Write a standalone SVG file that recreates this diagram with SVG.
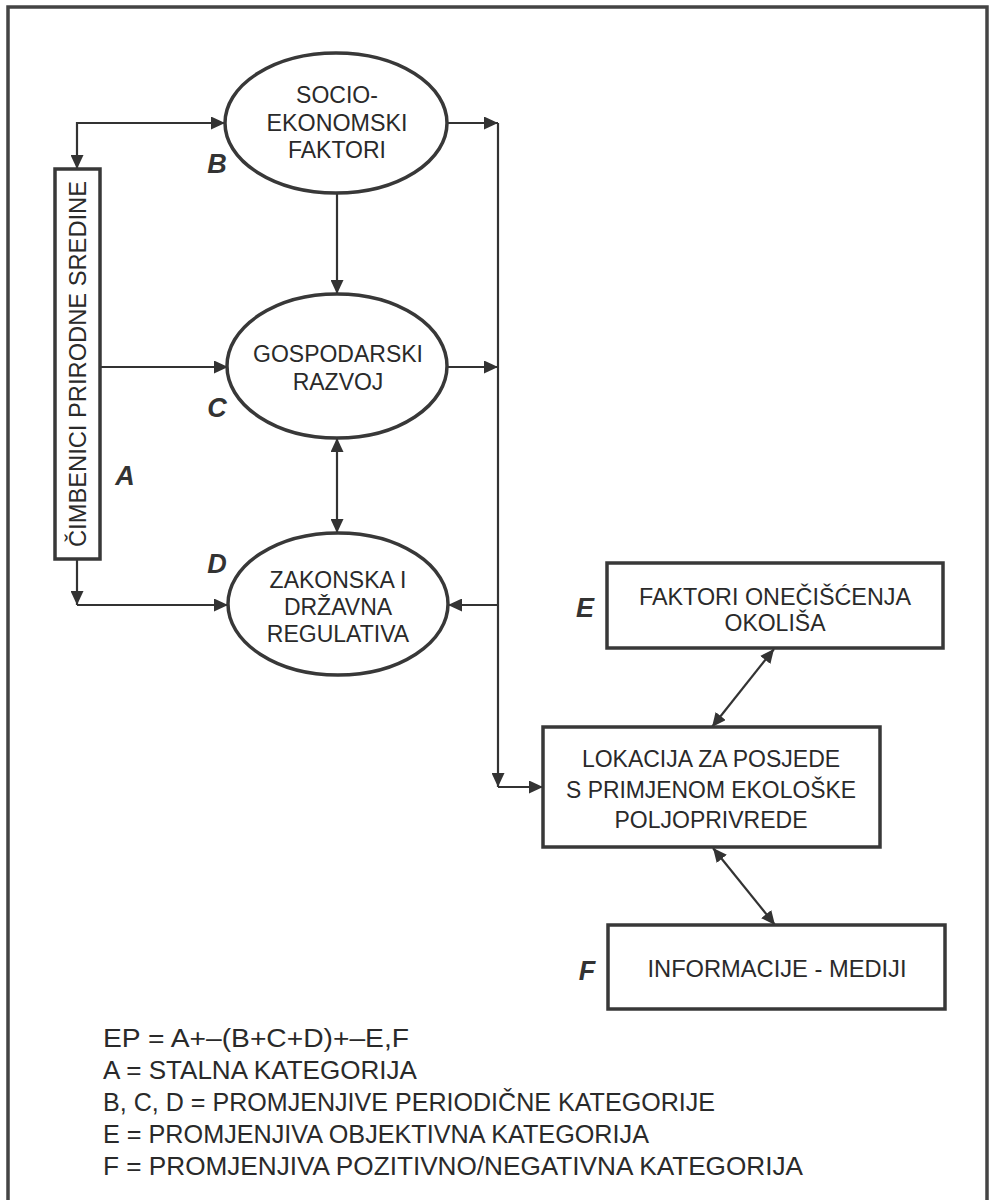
<svg xmlns="http://www.w3.org/2000/svg" width="993" height="1200" viewBox="0 0 993 1200">
<defs>
<marker id="ah" markerUnits="userSpaceOnUse" markerWidth="15" markerHeight="13" refX="14" refY="6.5" orient="auto-start-reverse">
<path d="M0,0 L14,6.5 L0,13 z" fill="#333"/>
</marker>
<style>
.shape{fill:#fff;stroke:#383838;stroke-width:3.5}
.t{font-family:"Liberation Sans",Arial,sans-serif;font-size:23px;fill:#2a2a2a;text-anchor:middle}
.lbl{font-family:"Liberation Sans",Arial,sans-serif;font-size:27px;font-weight:bold;font-style:italic;fill:#333;text-anchor:middle}
.leg{font-family:"Liberation Sans",Arial,sans-serif;font-size:25.5px;fill:#2a2a2a}
.c{fill:none;stroke:#333;stroke-width:2.2}
</style>
</defs>
<rect x="0" y="0" width="993" height="1200" fill="#fff"/>
<rect x="8" y="7" width="979" height="1210" fill="none" stroke="#444" stroke-width="3.5"/>

<g id="connectors">
<path class="c" d="M77,169 L77,123 L225,123" marker-start="url(#ah)" marker-end="url(#ah)"/>
<path class="c" d="M447,123 L498,123" marker-end="url(#ah)"/>
<path class="c" d="M498,123 L498,787" marker-end="url(#ah)"/>
<path class="c" d="M498,787 L543,787" marker-end="url(#ah)"/>
<path class="c" d="M337,193 L337,294" marker-end="url(#ah)"/>
<path class="c" d="M100,367 L228,367" marker-end="url(#ah)"/>
<path class="c" d="M447,367 L498,367" marker-end="url(#ah)"/>
<path class="c" d="M337,438 L337,533" marker-start="url(#ah)" marker-end="url(#ah)"/>
<path class="c" d="M77,559 L77,605" marker-end="url(#ah)"/>
<path class="c" d="M77,605 L228,605" marker-end="url(#ah)"/>
<path class="c" d="M498,605 L448,605" marker-end="url(#ah)"/>
<path class="c" d="M774,649 L712,727" marker-start="url(#ah)" marker-end="url(#ah)"/>
<path class="c" d="M713,848 L775,925" marker-start="url(#ah)" marker-end="url(#ah)"/>
</g>

<g id="nodeA">
<rect class="shape" x="55" y="169" width="45" height="390"/>
<text class="t" x="78" y="372" transform="rotate(-90 78 364)" textLength="366" lengthAdjust="spacingAndGlyphs">ČIMBENICI PRIRODNE SREDINE</text>
<text class="lbl" x="125" y="485">A</text>
</g>

<g id="nodeB">
<ellipse class="shape" cx="336" cy="123" rx="111" ry="70"/>
<text class="t" x="337" y="103">SOCIO-</text>
<text class="t" x="337" y="131" textLength="141" lengthAdjust="spacingAndGlyphs">EKONOMSKI</text>
<text class="t" x="337" y="158">FAKTORI</text>
<text class="lbl" x="217" y="173">B</text>
</g>

<g id="nodeC">
<ellipse class="shape" cx="337" cy="366" rx="110" ry="72"/>
<text class="t" x="338" y="362" textLength="170" lengthAdjust="spacingAndGlyphs">GOSPODARSKI</text>
<text class="t" x="338" y="390">RAZVOJ</text>
<text class="lbl" x="217" y="417">C</text>
</g>

<g id="nodeD">
<ellipse class="shape" cx="338" cy="604" rx="110" ry="71"/>
<text class="t" x="338" y="588">ZAKONSKA I</text>
<text class="t" x="338" y="615">DRŽAVNA</text>
<text class="t" x="338" y="642">REGULATIVA</text>
<text class="lbl" x="217" y="573">D</text>
</g>

<g id="nodeE">
<rect class="shape" x="607" y="563" width="336" height="85"/>
<text class="t" x="775" y="605" textLength="272" lengthAdjust="spacingAndGlyphs">FAKTORI ONEČIŠĆENJA</text>
<text class="t" x="775" y="631">OKOLIŠA</text>
<text class="lbl" x="585" y="617">E</text>
</g>

<g id="nodeLok">
<rect class="shape" x="543" y="727" width="337" height="120"/>
<text class="t" x="711" y="767">LOKACIJA ZA POSJEDE</text>
<text class="t" x="711" y="798" textLength="290" lengthAdjust="spacingAndGlyphs">S PRIMJENOM EKOLOŠKE</text>
<text class="t" x="711" y="828">POLJOPRIVREDE</text>
</g>

<g id="nodeF">
<rect class="shape" x="608" y="925" width="337" height="84"/>
<text class="t" x="777" y="977" textLength="259" lengthAdjust="spacingAndGlyphs">INFORMACIJE - MEDIJI</text>
<text class="lbl" x="587" y="980">F</text>
</g>

<g id="legend">
<text class="leg" x="103" y="1047" textLength="306" lengthAdjust="spacingAndGlyphs">EP = A+–(B+C+D)+–E,F</text>
<text class="leg" x="103" y="1079" textLength="314" lengthAdjust="spacingAndGlyphs">A = STALNA KATEGORIJA</text>
<text class="leg" x="103" y="1111" textLength="612" lengthAdjust="spacingAndGlyphs">B, C, D = PROMJENJIVE PERIODIČNE KATEGORIJE</text>
<text class="leg" x="103" y="1143" textLength="546" lengthAdjust="spacingAndGlyphs">E = PROMJENJIVA OBJEKTIVNA KATEGORIJA</text>
<text class="leg" x="103" y="1175" textLength="700" lengthAdjust="spacingAndGlyphs">F = PROMJENJIVA POZITIVNO/NEGATIVNA KATEGORIJA</text>
</g>
</svg>
